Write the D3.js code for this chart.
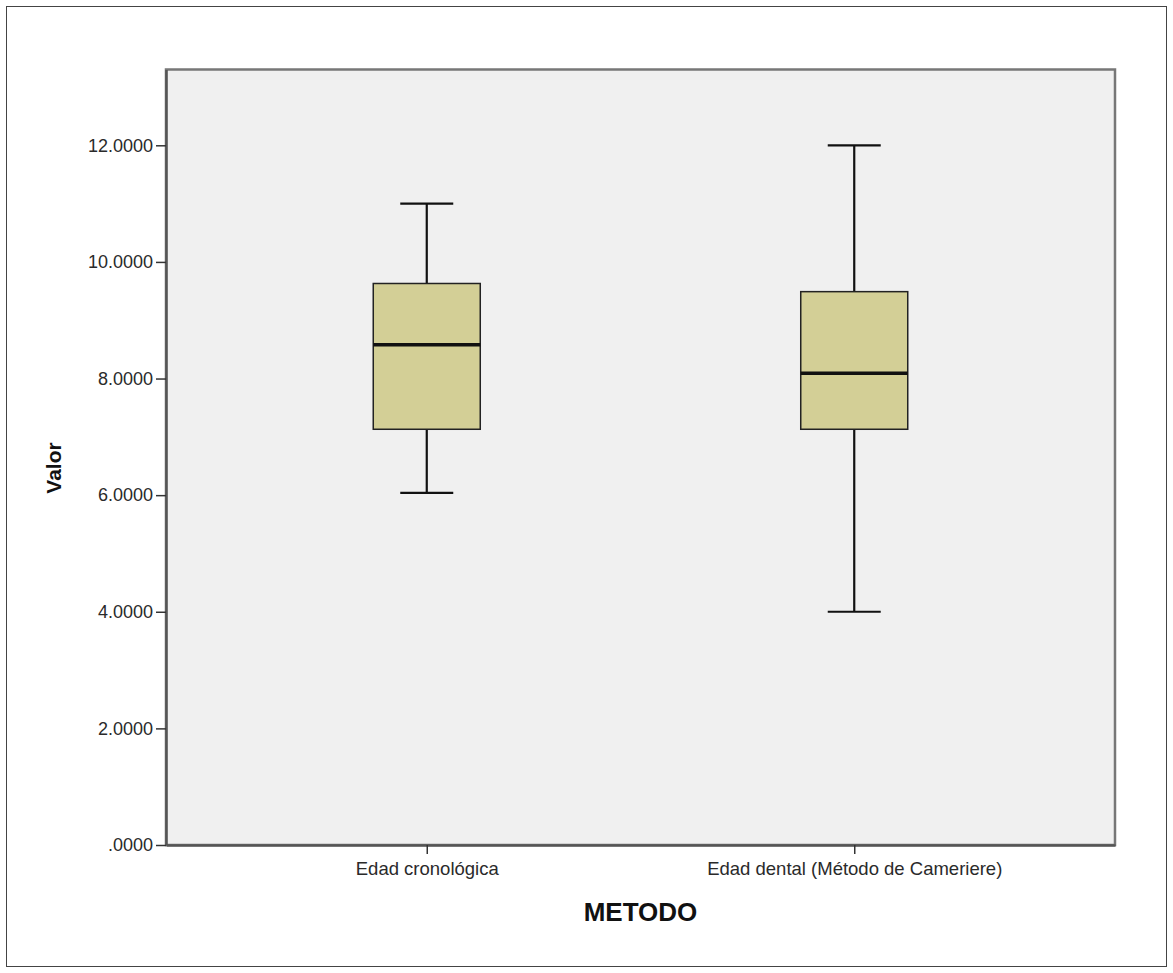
<!DOCTYPE html>
<html>
<head>
<meta charset="utf-8">
<script src="https://cdn.jsdelivr.net/npm/d3@7"></script>
<style>
html,body{margin:0;padding:0;background:#fff;}
svg{display:block;}
text{font-family:"Liberation Sans",Arial,sans-serif;}
</style>
</head>
<body>
<svg id="chart" width="1173" height="973"></svg>
<script>
const categories = ["Edad cronológica", "Edad dental (Método de Cameriere)"];
const whiskerLow  = [6.04, 4.00];
const q1          = [7.13, 7.13];
const median      = [8.58, 8.09];
const q3          = [9.63, 9.49];
const whiskerHigh = [11.0, 12.0];
const yTicks = [0, 2, 4, 6, 8, 10, 12];
const yTitle = "Valor";
const xTitle = "METODO";

const data = categories.map((c, i) => ({
  cat: c, lo: whiskerLow[i], q1: q1[i], med: median[i], q3: q3[i], hi: whiskerHigh[i]
}));

const svg = d3.select("#chart");
const L = 166, R = 1115, T = 69.5, B = 845;

svg.append("rect").attr("x", 6.5).attr("y", 6.5).attr("width", 1160).attr("height", 960)
  .attr("fill", "#fff").attr("stroke", "#444").attr("stroke-width", 1);

svg.append("rect").attr("x", L).attr("y", T).attr("width", R - L).attr("height", B - T)
  .attr("fill", "#f0f0f0").attr("stroke", "#777").attr("stroke-width", 2.5);

const x = d3.scalePoint().domain(categories).range([L, R]).padding(0.61);
const y = d3.scaleLinear().domain([0, 13.3]).range([B, T]);

const fmt = d => d === 0 ? ".0000" : d3.format(".4f")(d);

const yAxis = svg.append("g").attr("transform", `translate(${L},0)`)
  .call(d3.axisLeft(y).tickValues(yTicks).tickFormat(fmt).tickSizeInner(10).tickSizeOuter(0).tickPadding(3));
yAxis.select(".domain").attr("stroke", "#555").attr("stroke-width", 2.5);
yAxis.selectAll(".tick line").attr("stroke", "#333").attr("stroke-width", 1.5);
yAxis.selectAll(".tick text").attr("font-size", 18).attr("fill", "#2a2a2a")
  .style("font-family", "'Liberation Sans', Arial, sans-serif");

const xAxis = svg.append("g").attr("transform", `translate(0,${B})`)
  .call(d3.axisBottom(x).tickSizeInner(9).tickSizeOuter(0).tickPadding(8));
xAxis.select(".domain").attr("stroke", "#555").attr("stroke-width", 2.5);
xAxis.selectAll(".tick line").attr("stroke", "#333").attr("stroke-width", 1.5);
xAxis.selectAll(".tick text").attr("font-size", 18.5).attr("fill", "#2a2a2a")
  .style("font-family", "'Liberation Sans', Arial, sans-serif");

const boxW = 107, capW = 53;
const g = svg.selectAll("g.box").data(data).enter().append("g").attr("class", "box");

g.append("line").attr("x1", d => x(d.cat)).attr("x2", d => x(d.cat))
  .attr("y1", d => y(d.hi)).attr("y2", d => y(d.q3))
  .attr("stroke", "#111").attr("stroke-width", 2.2);
g.append("line").attr("x1", d => x(d.cat)).attr("x2", d => x(d.cat))
  .attr("y1", d => y(d.q1)).attr("y2", d => y(d.lo))
  .attr("stroke", "#111").attr("stroke-width", 2.2);
g.append("line").attr("x1", d => x(d.cat) - capW / 2).attr("x2", d => x(d.cat) + capW / 2)
  .attr("y1", d => y(d.hi)).attr("y2", d => y(d.hi))
  .attr("stroke", "#111").attr("stroke-width", 2.2);
g.append("line").attr("x1", d => x(d.cat) - capW / 2).attr("x2", d => x(d.cat) + capW / 2)
  .attr("y1", d => y(d.lo)).attr("y2", d => y(d.lo))
  .attr("stroke", "#111").attr("stroke-width", 2.2);
g.append("rect").attr("x", d => x(d.cat) - boxW / 2).attr("width", boxW)
  .attr("y", d => y(d.q3)).attr("height", d => y(d.q1) - y(d.q3))
  .attr("fill", "#d3cf96").attr("stroke", "#222").attr("stroke-width", 1.5);
g.append("line").attr("x1", d => x(d.cat) - boxW / 2).attr("x2", d => x(d.cat) + boxW / 2)
  .attr("y1", d => y(d.med)).attr("y2", d => y(d.med))
  .attr("stroke", "#111").attr("stroke-width", 3.5);

svg.append("text").attr("x", (L + R) / 2 + 0).attr("y", 921).attr("text-anchor", "middle")
  .attr("font-size", 26).attr("font-weight", "bold").attr("fill", "#111").text(xTitle);

svg.append("text").attr("transform", "translate(61,468) rotate(-90)").attr("text-anchor", "middle")
  .attr("font-size", 21).attr("font-weight", "bold").attr("fill", "#111").text(yTitle);
</script>
</body>
</html>
